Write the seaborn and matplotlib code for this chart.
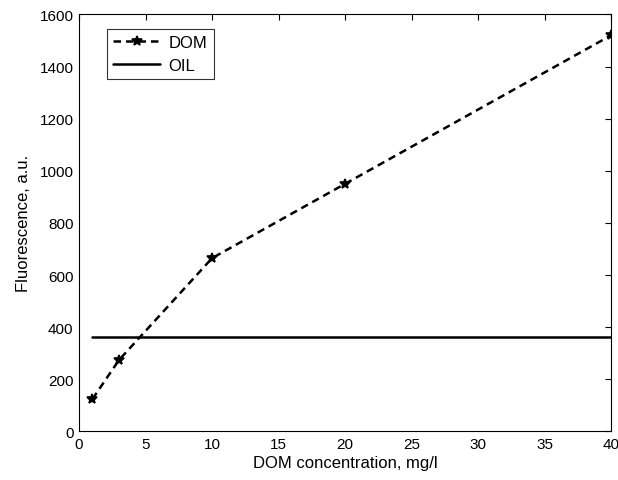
import numpy as np
import pandas as pd
import matplotlib
matplotlib.use("Agg")
import matplotlib.pyplot as plt
import seaborn as sns

# DOM fluorescence vs. concentration, with the oil reference level
dom_conc = [1, 3, 10, 20, 40]
dom_fluor = [124, 274, 665, 950, 1520]
oil_conc = [1, 40]
oil_fluor = [364, 364]

x_ticks = [0, 5, 10, 15, 20, 25, 30, 35, 40]
y_ticks = [0, 200, 400, 600, 800, 1000, 1200, 1400, 1600]

sns.set_theme(style="white")
plt.rcParams["font.family"] = ["Liberation Sans", "DejaVu Sans"]
plt.rcParams["text.color"] = "black"

fig = plt.figure(figsize=(6.18, 4.81), dpi=100)
ax = fig.add_axes([0.128, 0.101, 0.861, 0.867])

dom_df = pd.DataFrame({"conc": dom_conc, "fluor": dom_fluor})
oil_df = pd.DataFrame({"conc": oil_conc, "fluor": oil_fluor})

sns.lineplot(data=dom_df, x="conc", y="fluor", ax=ax, color="black",
             linestyle=(0, (3.0, 2.0)), linewidth=1.8, marker="*",
             markersize=7, markeredgewidth=1.2, markeredgecolor="black",
             label="DOM")
sns.lineplot(data=oil_df, x="conc", y="fluor", ax=ax, color="black",
             linewidth=1.8, label="OIL")

ax.set_xlim(0, 40)
ax.set_ylim(0, 1600)
ax.set_xticks(x_ticks)
ax.set_yticks(y_ticks)
ax.set_xticklabels([str(v) for v in x_ticks])
ax.set_yticklabels([str(v) for v in y_ticks])
ax.tick_params(direction="in", length=4, width=0.8, top=True, right=True,
               labelsize=11, colors="black", pad=4)
for spine in ax.spines.values():
    spine.set_visible(True)
    spine.set_color("black")
    spine.set_linewidth(0.8)

ax.set_xlabel("DOM concentration, mg/l", fontsize=12, color="black", labelpad=3)
ax.set_ylabel("Fluorescence, a.u.", fontsize=12, color="black", labelpad=6)

leg = ax.legend(loc="upper left", bbox_to_anchor=(0.036, 0.986), fontsize=12,
                frameon=True, fancybox=False, handlelength=2.8,
                borderpad=0.4, labelspacing=0.45, handletextpad=0.5)
leg.get_frame().set_edgecolor("black")
leg.get_frame().set_linewidth(0.8)
for t in leg.get_texts():
    t.set_color("black")

fig.savefig("out.png", dpi=100, facecolor="white")
